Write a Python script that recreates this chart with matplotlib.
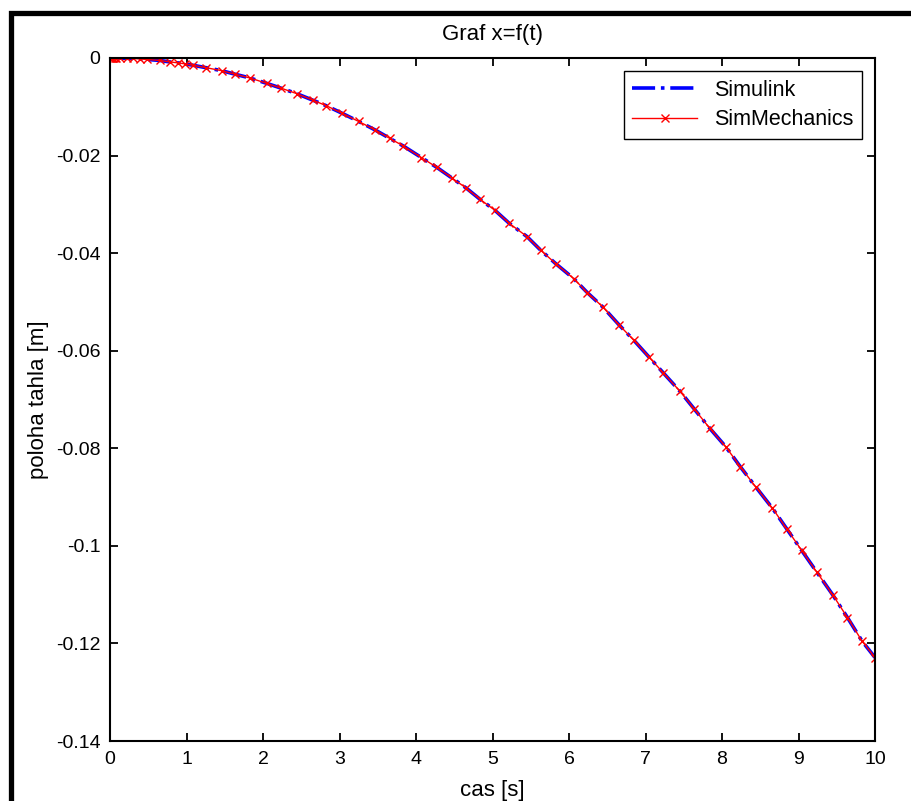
import numpy as np
import matplotlib
matplotlib.use("Agg")
import matplotlib.pyplot as plt
from matplotlib.patches import Rectangle

plt.rcParams['font.family'] = ['Liberation Sans', 'DejaVu Sans']
plt.rcParams['axes.unicode_minus'] = False

# time points of the SimMechanics solver output (dense near t=0)
t_mech = [0.0, 0.005, 0.01, 0.02, 0.03, 0.045, 0.06, 0.08, 0.13, 0.22, 0.30, 0.39,
          0.48, 0.65, 0.78, 0.89, 0.98, 1.09, 1.26, 1.46, 1.63, 1.83, 2.05, 2.24,
          2.44, 2.66, 2.83, 3.03, 3.25, 3.46, 3.66, 3.83, 4.07, 4.27, 4.47, 4.66,
          4.84, 5.03, 5.22, 5.45, 5.63, 5.83, 6.06, 6.24, 6.44, 6.66, 6.85, 7.04,
          7.23, 7.45, 7.64, 7.84, 8.05, 8.24, 8.44, 8.66, 8.85, 9.04, 9.24, 9.45,
          9.64, 9.83, 10.0]
x_mech = [0.0, 0.0, 0.0, 0.0, 0.0, 0.0, 0.0, 0.0, -0.00002, -0.00006, -0.0001, -0.0002,
          -0.0003, -0.0005, -0.0008, -0.001, -0.0012, -0.0015, -0.0020, -0.0026, -0.0033,
          -0.0041, -0.0052, -0.0062, -0.0073, -0.0087, -0.0098, -0.0113, -0.0130, -0.0147,
          -0.0165, -0.0180, -0.0204, -0.0224, -0.0246, -0.0267, -0.0290, -0.0312, -0.0339,
          -0.0366, -0.0394, -0.0422, -0.0452, -0.0481, -0.0510, -0.0548, -0.0579, -0.0612,
          -0.0645, -0.0683, -0.0720, -0.0759, -0.0797, -0.0838, -0.0879, -0.0923, -0.0966,
          -0.1009, -0.1054, -0.1101, -0.1147, -0.1195, -0.1229]

# Simulink output lies on top of the same curve
t_sim = t_mech
x_sim = x_mech

yticks = [0, -0.02, -0.04, -0.06, -0.08, -0.1, -0.12, -0.14]
ytick_labels = ['0', '-0.02', '-0.04', '-0.06', '-0.08', '-0.1', '-0.12', '-0.14']
xticks = list(range(0, 11))

W, H = 911, 801
fig = plt.figure(figsize=(W / 100, H / 100), dpi=100)
ax = fig.add_axes([110 / W, 1 - 741 / H, 765 / W, 683 / H])

ax.plot(t_sim, x_sim, color='blue', linestyle='-.', linewidth=2.6, label='Simulink')
ax.plot(t_mech, x_mech, color='red', linewidth=1.0, marker='x', markersize=5.5,
        markeredgewidth=1.0, label='SimMechanics')

ax.set_xlim(0, 10)
ax.set_ylim(-0.14, 0)
ax.set_xticks(xticks)
ax.set_xticklabels([str(v) for v in xticks])
ax.set_yticks(yticks)
ax.set_yticklabels(ytick_labels)
ax.tick_params(direction='in', length=6, width=1.3, labelsize=14,
               top=True, right=True)
ax.tick_params(axis='x', pad=7)
ax.tick_params(axis='y', pad=7)
for sp in ax.spines.values():
    sp.set_linewidth(1.5)

ax.set_title('Graf x=f(t)', fontsize=16, pad=13)
ax.set_xlabel('cas [s]', fontsize=16, labelpad=9)
ax.set_ylabel('poloha tahla [m]', fontsize=16, labelpad=5)

leg = ax.legend(loc='upper right', fontsize=15.5, fancybox=False, framealpha=1,
                edgecolor='black', borderaxespad=0.6, handlelength=3.0,
                borderpad=0.4, labelspacing=0.4)
leg.get_frame().set_linewidth(1.0)

# thick black frame around the figure (right and bottom edges lie outside the image)
fig.patches.append(Rectangle((10.5 / W, -0.1), 1.2, 1.1 - 13.5 / H,
                             transform=fig.transFigure, fill=False,
                             edgecolor='black', linewidth=3.8))

fig.savefig('out.png', dpi=100, facecolor='white')
